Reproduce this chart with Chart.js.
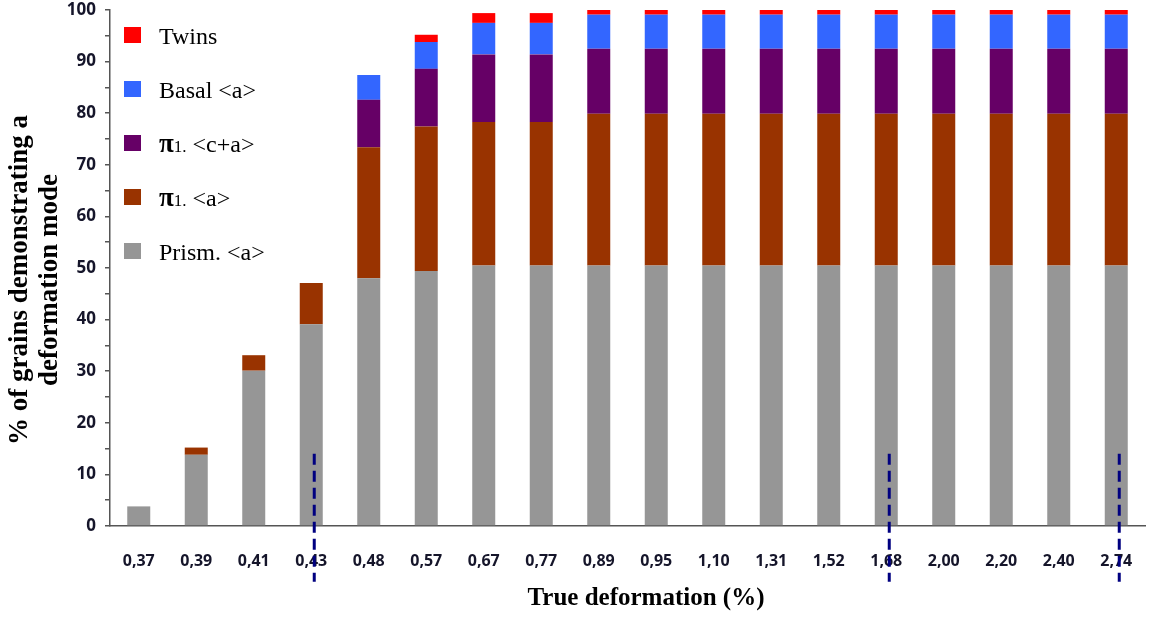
<!DOCTYPE html>
<html>
<head>
<meta charset="utf-8">
<script src="https://cdn.jsdelivr.net/npm/chart.js@4.4.1/dist/chart.umd.min.js"></script>
<style>
  html, body { margin: 0; padding: 0; background: #ffffff; }
  #wrap { width: 1154px; height: 620px; }
</style>
</head>
<body>
<div id="wrap"><canvas id="c" width="1154" height="620"></canvas></div>
<script>
// True deformation steps (%)
const categories = ['0,37','0,39','0,41','0,43','0,48','0,57','0,67','0,77','0,89','0,95','1,10','1,31','1,52','1,68','2,00','2,20','2,40','2,74'];

// Share of grains (%) showing each deformation mode, stacked from bottom to top
const prismA  = [3.8, 13.8, 30.1, 39.1, 48.0, 49.4, 50.5, 50.5, 50.5, 50.5, 50.5, 50.5, 50.5, 50.5, 50.5, 50.5, 50.5, 50.5];
const pyrA    = [0,   1.4,  3.0,  8.0,  25.4, 28.0, 27.8, 27.8, 29.4, 29.4, 29.4, 29.4, 29.4, 29.4, 29.4, 29.4, 29.4, 29.4];
const pyrCA   = [0,   0,    0,    0,    9.2,  11.2, 13.1, 13.1, 12.6, 12.6, 12.6, 12.6, 12.6, 12.6, 12.6, 12.6, 12.6, 12.6];
const basalA  = [0,   0,    0,    0,    4.8,  5.2,  6.1,  6.1,  6.6,  6.6,  6.6,  6.6,  6.6,  6.6,  6.6,  6.6,  6.6,  6.6];
const twins   = [0,   0,    0,    0,    0,    1.4,  1.9,  1.9,  0.9,  0.9,  0.9,  0.9,  0.9,  0.9,  0.9,  0.9,  0.9,  0.9];

// Y axis ticks
const yTicks = [0, 10, 20, 30, 40, 50, 60, 70, 80, 90, 100];

// Deformation steps marked with a dashed line, and the level where the dash starts
const markedSteps = ['0,43', '1,68', '2,74'];
const markerTop = 14;
const markerBottom = -10.8;

const seriesNames = ['Prism. <a>', 'π1. <a>', 'π1. <c+a>', 'Basal <a>', 'Twins'];
const seriesColors = ['#969696', '#993300', '#660066', '#3366ff', '#ff0000'];
const seriesValues = [prismA, pyrA, pyrCA, basalA, twins];

const datasets = seriesNames.map((name, i) => ({
  label: name,
  data: seriesValues[i],
  backgroundColor: seriesColors[i],
  borderWidth: 0,
  barPercentage: 0.40,
  categoryPercentage: 1.0
}));

// Dashed vertical markers over the bars
const markerPlugin = {
  id: 'markers',
  afterDatasetsDraw(chart) {
    const { ctx, scales: { x, y } } = chart;
    ctx.save();
    ctx.strokeStyle = '#000080';
    ctx.lineWidth = 3;
    ctx.setLineDash([11, 6]);
    markedSteps.forEach(step => {
      const px = x.getPixelForValue(categories.indexOf(step)) + 3;
      ctx.beginPath();
      ctx.moveTo(px, y.getPixelForValue(markerTop));
      ctx.lineTo(px, y.getPixelForValue(markerBottom));
      ctx.stroke();
    });
    ctx.restore();
  }
};

// Legend inside the plot, top series first
const legendPlugin = {
  id: 'innerLegend',
  afterDraw(chart) {
    const { ctx } = chart;
    const items = chart.data.datasets.slice().reverse();
    const boxX = 124, textX = 159, firstY = 35, step = 54;
    ctx.save();
    ctx.textBaseline = 'middle';
    ctx.fillStyle = '#000';
    items.forEach((ds, i) => {
      const cy = firstY + i * step;
      ctx.fillStyle = ds.backgroundColor;
      ctx.fillRect(boxX, cy - 8, 17, 16);
      ctx.fillStyle = '#000';
      let tx = textX;
      const label = ds.label;
      if (label.startsWith('π1.')) {
        ctx.font = 'bold 27px "Liberation Serif", serif';
        ctx.fillText('π', tx, cy + 2);
        tx += ctx.measureText('π').width;
        ctx.font = '17px "Liberation Serif", serif';
        ctx.fillText('1.', tx, cy + 5);
        tx += ctx.measureText('1.').width;
        ctx.font = '24px "Liberation Serif", serif';
        ctx.fillText(label.slice(3), tx, cy + 3);
      } else {
        ctx.font = '24px "Liberation Serif", serif';
        ctx.fillText(label, tx, cy + 3);
      }
    });
    ctx.restore();
  }
};

// Axis titles
const titlePlugin = {
  id: 'axisTitles',
  afterDraw(chart) {
    const { ctx } = chart;
    ctx.save();
    ctx.fillStyle = '#000';
    ctx.font = 'bold 25px "Liberation Serif", serif';
    ctx.textAlign = 'center';
    ctx.textBaseline = 'middle';
    ctx.fillText('True deformation (%)', 646, 599);
    ctx.font = 'bold 27px "Liberation Serif", serif';
    ctx.translate(0, 280);
    ctx.rotate(-Math.PI / 2);
    ctx.fillText('% of grains demonstrating a', 0, 20);
    ctx.fillText('deformation mode', 0, 50);
    ctx.restore();
  }
};

new Chart(document.getElementById('c'), {
  type: 'bar',
  data: { labels: categories, datasets },
  options: {
    responsive: false,
    animation: false,
    layout: { padding: { left: 0, top: 10, right: 9, bottom: 0 } },
    plugins: { legend: { display: false }, tooltip: { enabled: false } },
    scales: {
      x: {
        stacked: true,
        grid: { display: false },
        border: { display: true, color: '#555555', width: 1.5 },
        ticks: {
          color: '#15152a',
          font: { family: '"Open Sans", sans-serif', weight: 'bold', size: 16 },
          padding: 18,
          maxRotation: 0,
          autoSkip: false
        },
        afterFit(scale) {
          scale.height = 94;
          scale.paddingLeft = 0;
          scale.paddingRight = 0;
        }
      },
      y: {
        stacked: true,
        min: 0,
        max: 100,
        afterBuildTicks(scale) {
          const t = [];
          for (let v = 0; v <= 100; v += 5) t.push({ value: v });
          scale.ticks = t;
        },
        ticks: {
          color: '#15152a',
          font: { family: '"Open Sans", sans-serif', weight: 'bold', size: 17 },
          padding: 9,
          callback: v => (yTicks.includes(v) ? String(v) : '')
        },
        grid: { drawOnChartArea: false, drawTicks: true, tickLength: 5, color: '#555555', lineWidth: 1.5 },
        border: { display: true, color: '#555555', width: 1.5 },
        afterFit(scale) {
          scale.width = 110;
          scale.paddingTop = 0;
          scale.paddingBottom = 0;
        }
      }
    }
  },
  plugins: [markerPlugin, legendPlugin, titlePlugin]
});
</script>
</body>
</html>
